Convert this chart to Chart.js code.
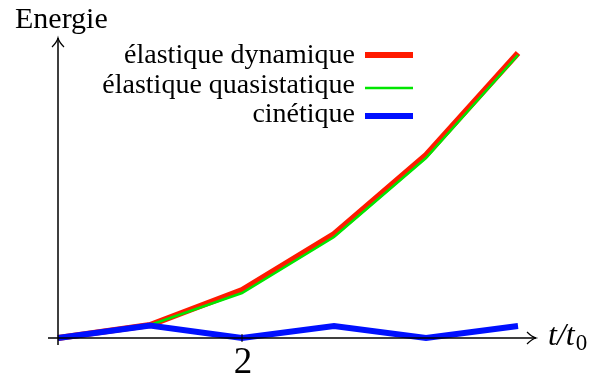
<!DOCTYPE html>
<html>
<head>
<meta charset="utf-8">
<script src="https://cdn.jsdelivr.net/npm/chart.js@4"></script>
<style>
  body { margin: 0; background: #fff; }
</style>
</head>
<body>
<canvas id="chart" width="602" height="379"></canvas>
<script>
// data (energy in arbitrary units, time in units of t0)
const times = [0, 1, 2, 3, 4, 5];
const elastiqueDynamique = [0, 0.13, 0.48, 1.04, 1.83, 2.85];
const elastiqueQuasistatique = [0, 0.13, 0.45, 1.01, 1.80, 2.83];
const cinetique = [0, 0.125, 0, 0.12, 0, 0.12];
const xTicks = [2];

const seriesLabels = ['élastique dynamique', 'élastique quasistatique', 'cinétique'];
const seriesColors = ['#ff1a00', '#00e600', '#0010ff'];
const seriesWidths = [6, 2.5, 6];

const toPoints = values => times.map((t, i) => ({ x: t, y: values[i] }));

const FAMILY = '"Liberation Serif"';

const axesPlugin = {
  id: 'axes',
  afterDatasetsDraw(chart) {
    const ctx = chart.ctx;
    const xs = chart.scales.x;
    const ys = chart.scales.y;
    const x0 = xs.getPixelForValue(0);
    const y0 = ys.getPixelForValue(0);
    const right = chart.chartArea.right - 4;
    const top = chart.chartArea.top;
    ctx.save();
    ctx.strokeStyle = '#000';
    ctx.lineWidth = 1.5;
    ctx.beginPath();
    // x axis
    ctx.moveTo(chart.chartArea.left, y0);
    ctx.lineTo(right, y0);
    // y axis
    ctx.moveTo(x0, chart.chartArea.bottom);
    ctx.lineTo(x0, top);
    ctx.stroke();
    // arrow heads
    ctx.lineWidth = 1.2;
    ctx.beginPath();
    ctx.moveTo(right - 9, y0 - 6);
    ctx.quadraticCurveTo(right - 4, y0 - 1, right, y0);
    ctx.quadraticCurveTo(right - 4, y0 + 1, right - 9, y0 + 6);
    ctx.moveTo(x0 - 6, top + 9);
    ctx.quadraticCurveTo(x0 - 1, top + 4, x0, top);
    ctx.quadraticCurveTo(x0 + 1, top + 4, x0 + 6, top + 9);
    ctx.stroke();
    // ticks
    ctx.lineWidth = 1;
    ctx.fillStyle = '#000';
    ctx.font = '37px ' + FAMILY;
    ctx.textAlign = 'center';
    ctx.textBaseline = 'alphabetic';
    xTicks.forEach(v => {
      const px = xs.getPixelForValue(v);
      ctx.beginPath();
      ctx.moveTo(px, y0 - 4);
      ctx.lineTo(px, y0 + 4);
      ctx.stroke();
      ctx.fillText(String(v), px + 1, 373);
    });
    ctx.restore();
  },
  afterDraw(chart) {
    const ctx = chart.ctx;
    const y0 = chart.scales.y.getPixelForValue(0);
    ctx.save();
    ctx.fillStyle = '#000';
    ctx.textBaseline = 'alphabetic';
    // axis titles
    ctx.font = '30px ' + FAMILY;
    ctx.textAlign = 'left';
    ctx.fillText('Energie', 15, 28);
    ctx.font = 'italic 32px ' + FAMILY;
    ctx.fillText('t/t', 548, y0 + 7);
    const w = ctx.measureText('t/t').width;
    ctx.font = '23px ' + FAMILY;
    ctx.fillText('0', 548 + w + 1, y0 + 12);
    // legend
    const rows = [[63, 55], [93, 88], [122, 116]];
    ctx.font = '28px ' + FAMILY;
    ctx.textAlign = 'right';
    chart.data.datasets.forEach((ds, i) => {
      ctx.fillText(ds.label, 355, rows[i][0]);
      ctx.strokeStyle = ds.borderColor;
      ctx.lineWidth = ds.borderWidth;
      ctx.beginPath();
      ctx.moveTo(365, rows[i][1]);
      ctx.lineTo(413, rows[i][1]);
      ctx.stroke();
    });
    ctx.restore();
  }
};

new Chart(document.getElementById('chart'), {
  type: 'line',
  data: {
    datasets: [
      {
        label: seriesLabels[0],
        data: toPoints(elastiqueDynamique),
        borderColor: seriesColors[0],
        borderWidth: seriesWidths[0],
        order: 2
      },
      {
        label: seriesLabels[1],
        data: toPoints(elastiqueQuasistatique),
        borderColor: seriesColors[1],
        borderWidth: seriesWidths[1],
        order: 1
      },
      {
        label: seriesLabels[2],
        data: toPoints(cinetique),
        borderColor: seriesColors[2],
        borderWidth: seriesWidths[2],
        order: 0
      }
    ]
  },
  options: {
    responsive: false,
    animation: false,
    layout: { padding: { left: 48, right: 62, top: 38, bottom: 34 } },
    elements: {
      point: { radius: 0 },
      line: { tension: 0, fill: false, borderJoinStyle: 'miter', borderCapStyle: 'butt' }
    },
    scales: {
      x: { type: 'linear', display: false, min: -0.1087, max: 5.239 },
      y: { type: 'linear', display: false, min: -0.07, max: 3.0 }
    },
    plugins: {
      legend: { display: false },
      tooltip: { enabled: false }
    }
  },
  plugins: [axesPlugin]
});
</script>
</body>
</html>
